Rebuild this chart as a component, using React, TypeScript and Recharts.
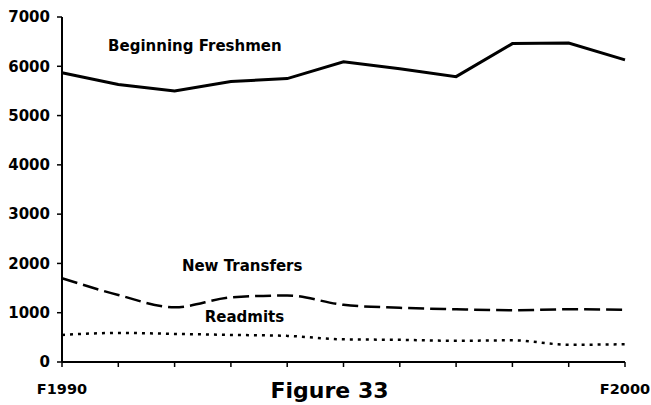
import React from "react";
import {
  LineChart,
  Line,
  XAxis,
  YAxis,
  ReferenceDot,
  Label,
} from "recharts";

const years = [1990, 1991, 1992, 1993, 1994, 1995, 1996, 1997, 1998, 1999, 2000];
const freshmen = [5870, 5630, 5500, 5690, 5750, 6090, 5950, 5790, 6460, 6470, 6130];
const transfers = [1700, 1360, 1110, 1310, 1350, 1160, 1100, 1070, 1050, 1070, 1060];
const readmits = [550, 590, 570, 550, 530, 460, 450, 430, 440, 350, 360];
const yTicks = [0, 1000, 2000, 3000, 4000, 5000, 6000, 7000];
const xTickLabels: Record<number, string> = { 1990: "F1990", 2000: "F2000" };
const seriesLabels = [
  { text: "Beginning Freshmen", year: 1992.36, value: 6410 },
  { text: "New Transfers", year: 1993.2, value: 1960 },
  { text: "Readmits", year: 1993.24, value: 920 },
];
const figureTitle = "Figure 33";

const data = years.map((y, i) => ({
  year: y,
  freshmen: freshmen[i],
  transfers: transfers[i],
  readmits: readmits[i],
}));

const font = "'DejaVu Sans', 'Liberation Sans', Arial, sans-serif";

export default function App() {
  return (
    <div style={{ position: "absolute", left: 0, top: 0, width: 651, height: 405, overflow: "hidden", background: "#fff" }}>
      <LineChart
        width={651}
        height={405}
        data={data}
        margin={{ top: 17, right: 26, left: 12, bottom: 13 }}
      >
        <XAxis
          dataKey="year"
          type="number"
          domain={[1990, 2000]}
          ticks={years}
          interval={0}
          tickFormatter={(v: number) => xTickLabels[v] ?? ""}
          height={30}
          tickSize={5}
          tickMargin={17}
          axisLine={{ stroke: "#000", strokeWidth: 2 }}
          tickLine={{ stroke: "#000", strokeWidth: 1.5 }}
          tick={{ fill: "#000", fontSize: 14.5, fontWeight: "bold", fontFamily: font }}
        >
          <Label
            value={figureTitle}
            position="bottom"
            offset={-10}
            dx={-14}
            style={{ fill: "#000", fontSize: 22, fontWeight: "bold", fontFamily: font }}
          />
        </XAxis>
        <YAxis
          domain={[0, 7000]}
          ticks={yTicks}
          interval={0}
          width={50}
          tickSize={5}
          tickMargin={7}
          axisLine={{ stroke: "#000", strokeWidth: 2 }}
          tickLine={{ stroke: "#000", strokeWidth: 1.5 }}
          tick={{ fill: "#000", fontSize: 15, fontWeight: "bold", fontFamily: font }}
        />
        <Line
          type="linear"
          dataKey="freshmen"
          stroke="#000"
          strokeWidth={3}
          dot={false}
          isAnimationActive={false}
        />
        <Line
          type="monotone"
          dataKey="transfers"
          stroke="#000"
          strokeWidth={2.5}
          strokeDasharray="16 6"
          dot={false}
          isAnimationActive={false}
        />
        <Line
          type="monotone"
          dataKey="readmits"
          stroke="#000"
          strokeWidth={2.5}
          strokeDasharray="3 5"
          dot={false}
          isAnimationActive={false}
        />
        {seriesLabels.map((l) => (
          <ReferenceDot
            key={l.text}
            x={l.year}
            y={l.value}
            r={0}
            fill="none"
            stroke="none"
            ifOverflow="visible"
          >
            <Label
              value={l.text}
              position="center"
              style={{ fill: "#000", fontSize: 15, fontWeight: "bold", fontFamily: font }}
            />
          </ReferenceDot>
        ))}
      </LineChart>
    </div>
  );
}
